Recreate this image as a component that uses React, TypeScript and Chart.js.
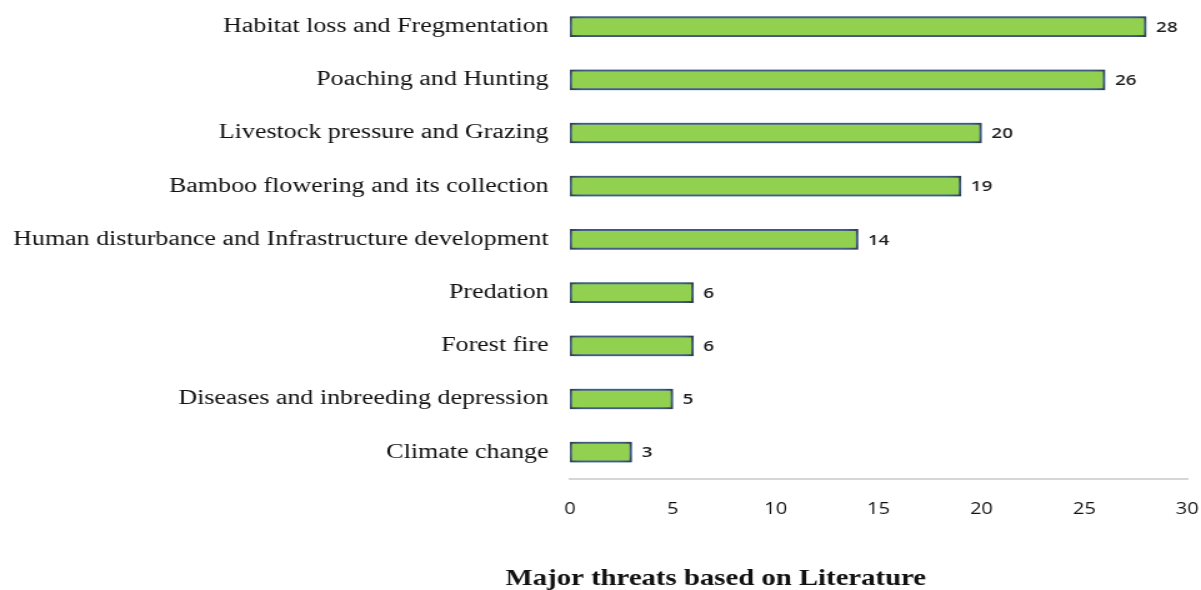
import React, { useEffect, useRef } from "react";
import { Chart, registerables } from "chart.js";

Chart.register(...registerables);

const categories = [
  "Habitat loss and Fregmentation",
  "Poaching and Hunting",
  "Livestock pressure and Grazing",
  "Bamboo flowering and its collection",
  "Human disturbance and Infrastructure development",
  "Predation",
  "Forest fire",
  "Diseases and inbreeding depression",
  "Climate change",
];
const values = [28, 26, 20, 19, 14, 6, 6, 5, 3];
const xTicks = [0, 5, 10, 15, 20, 25, 30];
const axisTitle = "Major threats based on Literature";

// the reference image is horizontally stretched; draw narrower and stretch via CSS
const STRETCH = 1.25;
const OUT_W = 1201;
const OUT_H = 590;
const CANVAS_W = Math.round(OUT_W / STRETCH);

const glowPlugin = {
  id: "glow",
  beforeDatasetsDraw(chart: any) {
    const ctx = chart.ctx;
    ctx.save();
    ctx.shadowColor = "rgba(100,165,255,1)";
    ctx.shadowBlur = 10;
    ctx.shadowOffsetX = 0;
    ctx.shadowOffsetY = 0;
  },
  afterDatasetsDraw(chart: any) {
    const ctx = chart.ctx;
    ctx.restore();
    const meta = chart.getDatasetMeta(0);
    ctx.save();
    ctx.font = "600 15px 'Open Sans'";
    ctx.fillStyle = "#1e1e1e";
    ctx.textAlign = "left";
    ctx.textBaseline = "middle";
    meta.data.forEach((bar: any, i: number) => {
      ctx.fillText(String(chart.data.datasets[0].data[i]), bar.x + 8, bar.y + 1);
    });
    ctx.restore();
  },
  afterDraw(chart: any) {
    const ctx = chart.ctx;
    ctx.save();
    ctx.font = "bold 23px 'Liberation Serif'";
    ctx.fillStyle = "#111";
    ctx.textAlign = "center";
    ctx.textBaseline = "middle";
    ctx.fillText(axisTitle, 716 / STRETCH, chart.height - 11);
    ctx.restore();
  },
};

export default function App() {
  const ref = useRef<HTMLCanvasElement>(null);
  useEffect(() => {
    document.body.style.margin = "0";
    const chart = new Chart(ref.current!, {
      type: "bar",
      data: {
        labels: categories,
        datasets: [
          {
            data: values,
            backgroundColor: "#92D050",
            borderColor: "#2b2b2b",
            borderWidth: 2,
            borderSkipped: false,
            barThickness: 20,
          },
        ],
      },
      options: {
        indexAxis: "y",
        animation: false,
        responsive: false,
        devicePixelRatio: 1,
        layout: { padding: { top: 0, right: 11, bottom: 50, left: 0 } },
        plugins: { legend: { display: false }, tooltip: { enabled: false } },
        scales: {
          x: {
            min: 0,
            max: 30,
            afterBuildTicks: (axis: any) => {
              axis.ticks = xTicks.map((v) => ({ value: v }));
            },
            afterFit: (axis: any) => {
              axis.paddingLeft = 0;
              axis.paddingRight = 0;
            },
            grid: { display: false, drawTicks: false },
            border: { display: true, color: "#d6d6d6", width: 2 },
            ticks: {
              padding: 21,
              color: "#111",
              font: { family: "'Open Sans'", size: 16 },
            },
          },
          y: {
            afterFit: (axis: any) => {
              axis.paddingTop = 0;
              axis.paddingBottom = 0;
              axis.width = Math.round(570 / STRETCH);
            },
            grid: { display: false, drawTicks: false },
            border: { display: false },
            ticks: {
              padding: 17,
              color: "#111",
              font: { family: "'Liberation Serif'", size: 20.8 },
            },
          },
        },
      },
      plugins: [glowPlugin],
    });
    return () => chart.destroy();
  }, []);
  return (
    <div style={{ position: "absolute", left: 0, top: 0, width: OUT_W, height: OUT_H }}>
      <canvas
        ref={ref}
        width={CANVAS_W}
        height={OUT_H}
        style={{ width: OUT_W, height: OUT_H, display: "block" }}
      />
    </div>
  );
}
